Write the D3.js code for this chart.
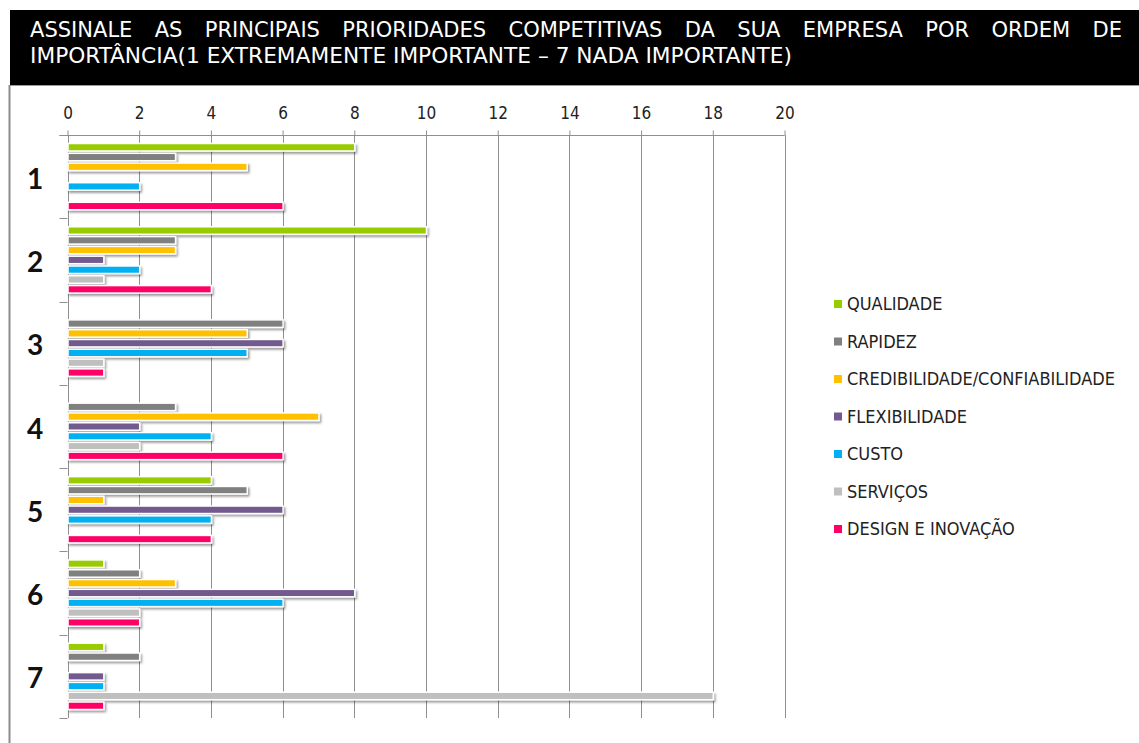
<!DOCTYPE html>
<html>
<head>
<meta charset="utf-8">
<script src="https://cdn.jsdelivr.net/npm/d3@7/dist/d3.min.js"></script>
<style>
  html, body { margin: 0; padding: 0; background: #fff; }
  svg { display: block; }
</style>
</head>
<body>
<svg id="chart" width="1139" height="743"></svg>
<script>
// Ranking positions (1 = extremely important ... 7 = not important)
const categories = ["1", "2", "3", "4", "5", "6", "7"];

// Number of companies giving each priority a given rank
const qualidade     = [8, 10, 0, 0, 4, 1, 1];
const rapidez       = [3, 3, 6, 3, 5, 2, 2];
const credibilidade = [5, 3, 5, 7, 1, 3, 0];
const flexibilidade = [0, 1, 6, 2, 6, 8, 1];
const custo         = [2, 2, 5, 4, 4, 6, 1];
const servicos      = [0, 1, 1, 2, 0, 2, 18];
const design        = [6, 4, 1, 6, 4, 2, 1];

const seriesNames = ["QUALIDADE", "RAPIDEZ", "CREDIBILIDADE/CONFIABILIDADE",
                     "FLEXIBILIDADE", "CUSTO", "SERVIÇOS", "DESIGN E INOVAÇÃO"];
const seriesValues = [qualidade, rapidez, credibilidade, flexibilidade, custo, servicos, design];
const seriesColors = ["#99cc00", "#808080", "#ffc000", "#725a8f", "#00b0f0", "#bfbfbf", "#ff0066"];

const xTickValues = [0, 2, 4, 6, 8, 10, 12, 14, 16, 18, 20];

const titleLine1 = "ASSINALE AS PRINCIPAIS PRIORIDADES COMPETITIVAS DA SUA EMPRESA POR ORDEM DE";
const titleLine2 = "IMPORTÂNCIA(1 EXTREMAMENTE IMPORTANTE – 7 NADA IMPORTANTE)";

const narrowFont = "'Liberation Sans Narrow', 'DejaVu Sans Condensed', 'Liberation Sans', sans-serif";

const svg = d3.select("#chart");

// Drop shadow for the bars
const defs = svg.append("defs");
const shadow = defs.append("filter").attr("id", "barShadow")
  .attr("x", "-5%").attr("y", "-50%").attr("width", "120%").attr("height", "250%");
shadow.append("feDropShadow")
  .attr("dx", 1.5).attr("dy", 2).attr("stdDeviation", 1.3)
  .attr("flood-color", "#000").attr("flood-opacity", 0.4);

// Title banner
svg.append("rect").attr("x", 10).attr("y", 10).attr("width", 1129).attr("height", 75).attr("fill", "#000");
svg.append("line").attr("x1", 10).attr("x2", 1139).attr("y1", 85.5).attr("y2", 85.5)
  .attr("stroke", "#9a9a9a").attr("stroke-width", 1);
svg.append("line").attr("x1", 9.5).attr("x2", 9.5).attr("y1", 85).attr("y2", 743)
  .attr("stroke", "#8c8c8c").attr("stroke-width", 2);

// First title line, justified across the banner (words slightly widened)
const words = titleLine1.split(" ");
const titleG = svg.append("g").attr("fill", "#fff").attr("font-family", narrowFont).attr("font-size", 20.5);
const wordNodes = words.map(w => titleG.append("text").attr("y", 37).text(w));
const widths = wordNodes.map(n => n.node().getComputedTextLength() * 1.14);
wordNodes.forEach((n, i) => n.attr("textLength", widths[i]).attr("lengthAdjust", "spacingAndGlyphs"));
const left = 30, right = 1122;
const gap = (right - left - d3.sum(widths)) / (words.length - 1);
let cx = left;
wordNodes.forEach((n, i) => { n.attr("x", cx); cx += widths[i] + gap; });

titleG.append("text").attr("x", left).attr("y", 63)
  .attr("textLength", 762).attr("lengthAdjust", "spacingAndGlyphs")
  .text(titleLine2);

// Plot area
const plot = { left: 67.5, right: 784.5, top: 135, bottom: 718 };

const x = d3.scaleLinear().domain([0, 20]).range([plot.left, plot.right]);
const y = d3.scaleBand().domain(categories).range([plot.top, plot.bottom]).paddingInner(0).paddingOuter(0);
const ySeries = d3.scaleBand().domain(seriesNames).range([0, y.bandwidth()]).paddingOuter(0.75).paddingInner(0);

// Vertical gridlines
svg.append("g").selectAll("line").data(xTickValues.slice(1)).join("line")
  .attr("x1", d => Math.round(x(d)) + 0.5).attr("x2", d => Math.round(x(d)) + 0.5)
  .attr("y1", plot.top).attr("y2", plot.bottom)
  .attr("stroke", "#8f8f8f").attr("stroke-width", 1);

// Top value axis
const xAxis = svg.append("g").attr("transform", `translate(0,${plot.top + 0.5})`)
  .call(d3.axisTop(x).tickValues(xTickValues).tickSize(5).tickPadding(12).tickSizeOuter(0));
xAxis.select(".domain").attr("d", `M${plot.left - 8},0H${plot.right}`).attr("stroke", "#8f8f8f");
xAxis.selectAll(".tick line").attr("stroke", "#8f8f8f");
xAxis.selectAll(".tick text").attr("font-family", narrowFont).attr("font-size", 17).attr("fill", "#222");

// Left category axis
const yAxisG = svg.append("g");
yAxisG.append("line")
  .attr("x1", Math.round(plot.left) + 0.5).attr("x2", Math.round(plot.left) + 0.5)
  .attr("y1", plot.top).attr("y2", plot.bottom)
  .attr("stroke", "#8f8f8f");
const boundaries = categories.map(c => y(c)).concat([plot.bottom]);
yAxisG.selectAll("line.tick").data(boundaries).join("line").attr("class", "tick")
  .attr("x1", plot.left - 8).attr("x2", plot.left)
  .attr("y1", d => Math.round(d) + 0.5).attr("y2", d => Math.round(d) + 0.5)
  .attr("stroke", "#8f8f8f");
yAxisG.selectAll("text").data(categories).join("text")
  .attr("x", 35).attr("y", d => y(d) + y.bandwidth() / 2 + 1)
  .attr("text-anchor", "middle").attr("dominant-baseline", "central")
  .attr("font-family", "Lato, 'Open Sans', sans-serif").attr("font-weight", "bold")
  .attr("font-size", 28).attr("fill", "#111")
  .text(d => d);

// Bars
const barData = [];
categories.forEach((c, ci) => {
  seriesNames.forEach((s, si) => {
    const v = seriesValues[si][ci];
    if (v > 0) barData.push({ cat: c, series: s, value: v, color: seriesColors[si] });
  });
});
const barH = 7.5;
svg.append("g").selectAll("rect").data(barData).join("rect")
  .attr("x", x(0) + 0.5)
  .attr("y", d => y(d.cat) + ySeries(d.series) + (ySeries.bandwidth() - barH) / 2)
  .attr("width", d => x(d.value) - x(0))
  .attr("height", barH)
  .attr("fill", d => d.color)
  .attr("stroke", "#fff").attr("stroke-width", 1.5)
  .attr("filter", "url(#barShadow)");

// Legend
const legend = svg.append("g").attr("transform", "translate(834,304)");
const item = legend.selectAll("g").data(seriesNames).join("g")
  .attr("transform", (d, i) => `translate(0,${i * 37.5})`);
item.append("rect").attr("x", 0).attr("y", -4).attr("width", 8).attr("height", 8)
  .attr("fill", (d, i) => seriesColors[i]);
item.append("text").attr("x", 13).attr("y", 0).attr("dy", "0.36em")
  .attr("font-family", narrowFont).attr("font-size", 18).attr("fill", "#222")
  .text(d => d);
</script>
</body>
</html>
